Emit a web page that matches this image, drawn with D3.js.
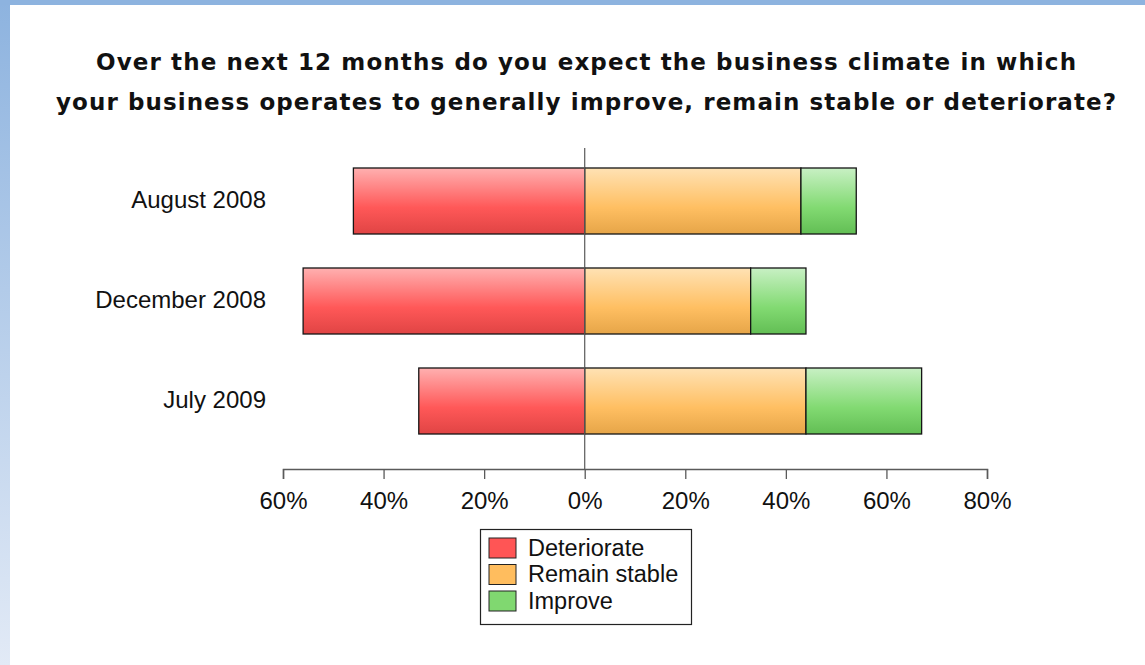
<!DOCTYPE html>
<html>
<head>
<meta charset="utf-8">
<script src="https://cdn.jsdelivr.net/npm/d3@7"></script>
<style>
  html, body { margin: 0; padding: 0; background: #fff; }
  svg { display: block; }
</style>
</head>
<body>
<svg id="chart" width="1145" height="665"></svg>
<script>
// Survey periods (top to bottom)
const categories = ["August 2008", "December 2008", "July 2009"];
// Share of respondents, in percent
const deteriorate = [46, 56, 33];
const remainStable = [43, 33, 44];
const improve = [11, 11, 23];
// Axis ticks (signed) and their labels
const tickValues = [-60, -40, -20, 0, 20, 40, 60, 80];
const seriesNames = ["Deteriorate", "Remain stable", "Improve"];
const titleLines = [
  "Over the next 12 months do you expect the business climate in which",
  "your business operates to generally improve, remain stable or deteriorate?"
];

const svg = d3.select("#chart");
const W = 1145, H = 665;

// ---- frame: blue band on top and a fading band on the left ----
const defs = svg.append("defs");
const sideGrad = defs.append("linearGradient")
  .attr("id", "sideGrad").attr("x1", 0).attr("y1", 0).attr("x2", 0).attr("y2", 1);
sideGrad.append("stop").attr("offset", "0%").attr("stop-color", "#8db3df");
sideGrad.append("stop").attr("offset", "100%").attr("stop-color", "#e2eaf6");

svg.append("rect").attr("x", 0).attr("y", 0).attr("width", W).attr("height", H).attr("fill", "#fff");
svg.append("rect").attr("x", 0).attr("y", 0).attr("width", 10).attr("height", H).attr("fill", "url(#sideGrad)");
svg.append("rect").attr("x", 0).attr("y", 0).attr("width", W).attr("height", 5).attr("fill", "#8db3df");

// ---- bar gradients ----
function vGrad(id, top, mid, bottom) {
  const g = defs.append("linearGradient").attr("id", id)
    .attr("x1", 0).attr("y1", 0).attr("x2", 0).attr("y2", 1);
  g.append("stop").attr("offset", "0%").attr("stop-color", top);
  g.append("stop").attr("offset", "60%").attr("stop-color", mid);
  g.append("stop").attr("offset", "100%").attr("stop-color", bottom);
}
vGrad("gRed", "#ffb0b0", "#ff5858", "#e04444");
vGrad("gOrange", "#ffe2b4", "#ffbf62", "#e6a548");
vGrad("gGreen", "#c8f0c4", "#82da72", "#62be54");
const fills = ["url(#gRed)", "url(#gOrange)", "url(#gGreen)"];
const swatchColors = ["#ff5555", "#ffbd5e", "#80d870"];

// ---- title ----
const titleWidths = [980, 1060];
titleLines.forEach((t, i) => {
  svg.append("text")
    .attr("x", 586).attr("y", 70 + i * 40)
    .attr("text-anchor", "middle")
    .attr("font-family", "'DejaVu Sans', Verdana, sans-serif")
    .attr("font-weight", "bold")
    .attr("font-size", 23)
    .attr("textLength", titleWidths[i])
    .attr("lengthAdjust", "spacing")
    .attr("fill", "#111")
    .text(t);
});

// ---- scales ----
const x = d3.scaleLinear().domain([-60, 80]).range([283, 987]);
const y = d3.scaleBand().domain(categories).range([151, 451])
  .paddingInner(0.34).paddingOuter(0.17);

// ---- stacked segments ----
const segments = [];
categories.forEach((c, i) => {
  segments.push({ cat: c, s: 0, x0: -deteriorate[i], x1: 0 });
  segments.push({ cat: c, s: 1, x0: 0, x1: remainStable[i] });
  segments.push({ cat: c, s: 2, x0: remainStable[i], x1: remainStable[i] + improve[i] });
});

svg.append("g").selectAll("rect").data(segments).join("rect")
  .attr("x", d => x(d.x0))
  .attr("y", d => y(d.cat))
  .attr("width", d => x(d.x1) - x(d.x0))
  .attr("height", y.bandwidth())
  .attr("fill", d => fills[d.s])
  .attr("stroke", "#151515")
  .attr("stroke-width", 1.3);

// ---- zero line ----
svg.append("line")
  .attr("x1", x(0)).attr("x2", x(0))
  .attr("y1", 148).attr("y2", 469)
  .attr("stroke", "#5a5a5a").attr("stroke-width", 1.2);

// ---- x axis ----
const xAxis = d3.axisBottom(x)
  .tickValues(tickValues)
  .tickSize(10)
  .tickPadding(13)
  .tickFormat(d => Math.abs(d) + "%");
const gx = svg.append("g").attr("transform", "translate(0,469)").call(xAxis);
gx.select(".domain").attr("stroke", "#5a5a5a").attr("stroke-width", 1.5);
gx.selectAll(".tick line").attr("stroke", "#5a5a5a").attr("stroke-width", 1.3);
gx.selectAll(".tick text")
  .attr("font-family", "'Liberation Sans', Arial, sans-serif")
  .attr("font-size", 24)
  .attr("fill", "#111");

// ---- category labels ----
svg.append("g").selectAll("text").data(categories).join("text")
  .attr("x", 266)
  .attr("y", d => y(d) + y.bandwidth() / 2)
  .attr("dy", "0.3em")
  .attr("text-anchor", "end")
  .attr("font-family", "'Liberation Sans', Arial, sans-serif")
  .attr("font-size", 24)
  .attr("fill", "#111")
  .text(d => d);

// ---- legend ----
const lg = svg.append("g").attr("transform", "translate(480,529)");
lg.append("rect").attr("x", 0.5).attr("y", 0.5).attr("width", 211).attr("height", 95)
  .attr("fill", "#fff").attr("stroke", "#222").attr("stroke-width", 1.2);
const items = lg.selectAll("g.item").data(seriesNames).join("g")
  .attr("class", "item")
  .attr("transform", (d, i) => `translate(9,${9 + i * 26.5})`);
items.append("rect")
  .attr("width", 27).attr("height", 20)
  .attr("fill", (d, i) => swatchColors[i])
  .attr("stroke", "#222").attr("stroke-width", 1);
items.append("text")
  .attr("x", 39).attr("y", 10).attr("dy", "0.33em")
  .attr("font-family", "'Liberation Sans', Arial, sans-serif")
  .attr("font-size", 23.5)
  .attr("fill", "#111")
  .text(d => d);
</script>
</body>
</html>
